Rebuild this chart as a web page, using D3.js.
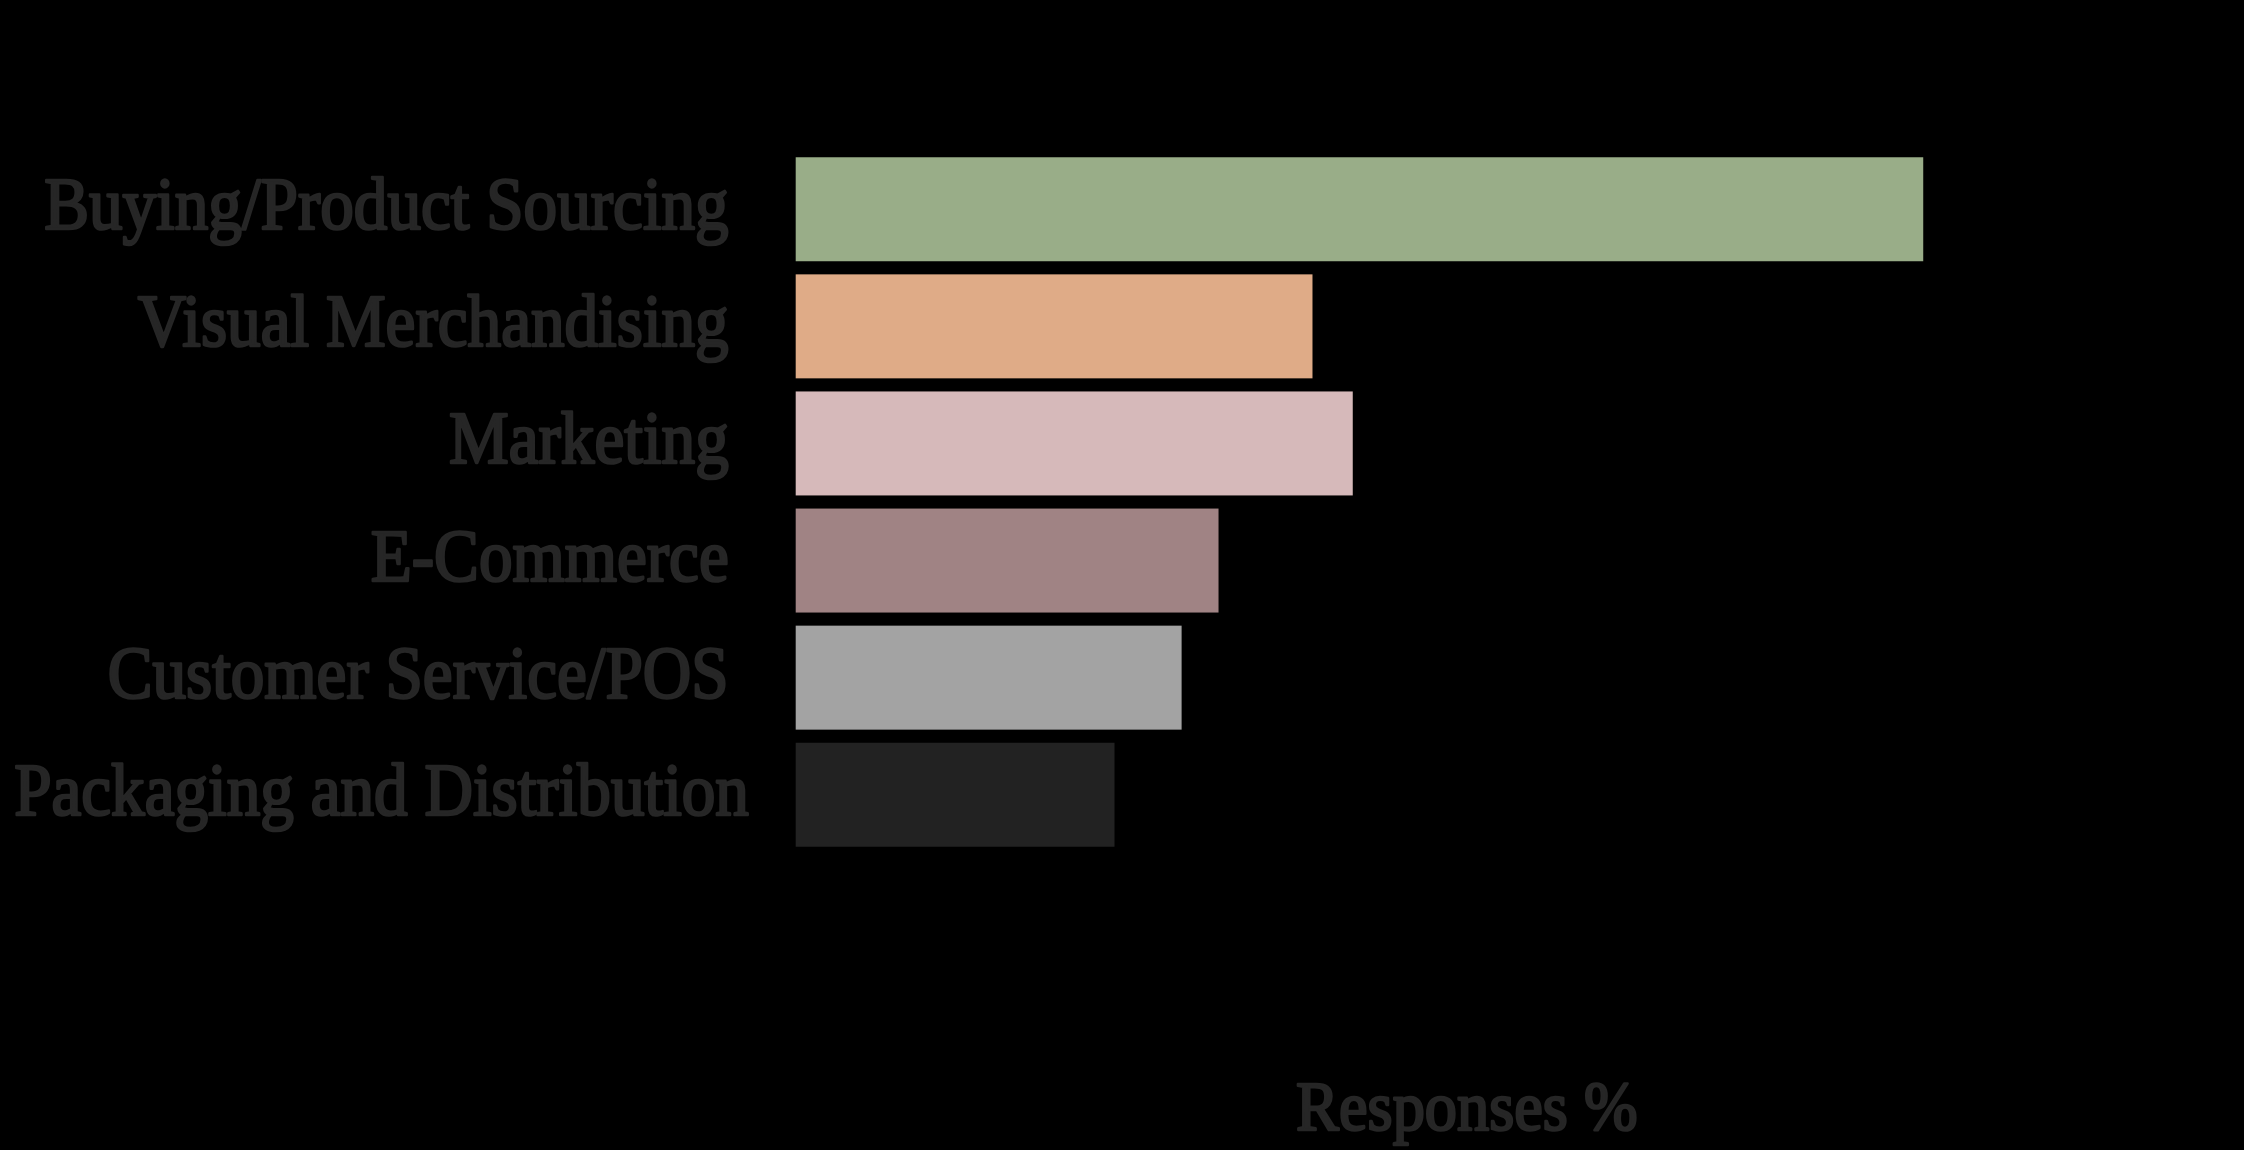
<!DOCTYPE html>
<html>
<head>
<meta charset="utf-8">
<script src="https://cdn.jsdelivr.net/npm/d3@7"></script>
<style>
  html, body { margin: 0; padding: 0; background: #000; }
  svg { display: block; }
</style>
</head>
<body>
<svg id="chart" width="2244" height="1150"></svg>
<script>
const categories = [
  "Buying/Product Sourcing",
  "Visual Merchandising",
  "Marketing",
  "E-Commerce",
  "Customer Service/POS",
  "Packaging and Distribution"
];
const values = [33.6, 15.4, 16.6, 12.6, 11.5, 9.5];
const colors = ["#99ad88", "#dfab87", "#d6b9ba", "#a08384", "#a3a3a3", "#222222"];
const xDomain = [0, 40];
const xTitle = "Responses %";

const W = 2244, H = 1150;
const margin = { left: 795.7, right: W - 2138, top: 150.7, bottom: H - 853.3 };
const svg = d3.select("#chart");

const x = d3.scaleLinear().domain(xDomain).range([margin.left, W - margin.right]);
const y = d3.scaleBand().domain(categories)
  .range([margin.top, H - margin.bottom])
  .paddingInner(0.112).paddingOuter(0.056);

const textColor = "#262626";
const fontFamily = "'Liberation Serif', 'Times New Roman', serif";
const squeeze = 0.92;

svg.append("g").selectAll("rect")
  .data(categories)
  .join("rect")
  .attr("x", x(0))
  .attr("y", d => y(d))
  .attr("width", (d, i) => x(values[i]) - x(0))
  .attr("height", y.bandwidth())
  .attr("fill", (d, i) => colors[i]);

// category labels: right-aligned next to the bars, but never running past the left edge
const capH = 40;
const minLeft = 14;
const labels = svg.append("g").selectAll("text")
  .data(categories)
  .join("text")
  .attr("text-anchor", "end")
  .attr("font-family", fontFamily)
  .attr("font-size", 73)
  .attr("fill", textColor)
  .attr("stroke", textColor)
  .attr("stroke-width", 2.6)
  .attr("stroke-linejoin", "round")
  .text(d => d);

labels.attr("transform", function (d) {
  const w = this.getComputedTextLength() * squeeze;
  const right = Math.max(x(0) - 67, minLeft + w);
  return `translate(${right},${y(d) + y.bandwidth() / 2 + capH / 2}) scale(${squeeze},1)`;
});

// axis title
svg.append("text")
  .attr("transform", `translate(${(x.range()[0] + x.range()[1]) / 2},1130) scale(${squeeze},1)`)
  .attr("text-anchor", "middle")
  .attr("font-family", fontFamily)
  .attr("font-size", 70)
  .attr("fill", textColor)
  .attr("stroke", textColor)
  .attr("stroke-width", 2.6)
  .attr("stroke-linejoin", "round")
  .text(xTitle);
</script>
</body>
</html>
